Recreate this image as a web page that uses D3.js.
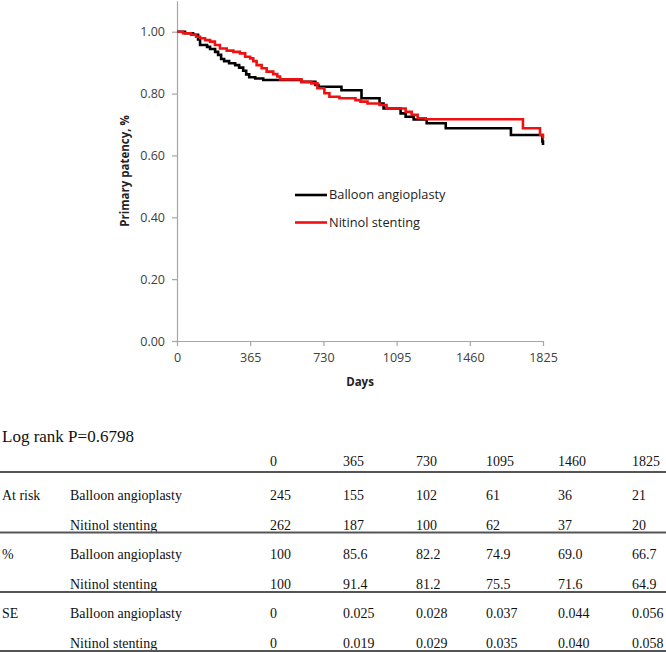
<!DOCTYPE html>
<html>
<head>
<meta charset="utf-8">
<script src="https://cdn.jsdelivr.net/npm/d3@7"></script>
<style>
  html, body { margin: 0; padding: 0; background: #fff; }
  svg { display: block; }
</style>
</head>
<body>
<svg id="chart" width="666" height="652"></svg>
<script>
// ---------- data ----------
const xTicks = [0, 365, 730, 1095, 1460, 1825];
const yTicks = [0, 0.2, 0.4, 0.6, 0.8, 1.0];
const seriesNames = ["Balloon angioplasty", "Nitinol stenting"];
const seriesColors = ["#000000", "#ee1111"];

// Kaplan-Meier step change points (day, primary patency)
const balloonDays = [0, 40, 80, 105, 115, 150, 165, 190, 205, 220, 235, 260, 290, 310, 330, 345, 360, 390, 430, 620, 690, 705, 820, 920, 1010, 1030, 1115, 1140, 1180, 1245, 1340, 1665, 1822, 1825];
const balloonSurv = [1.0, 0.995, 0.99, 0.975, 0.957, 0.951, 0.944, 0.935, 0.925, 0.912, 0.905, 0.898, 0.892, 0.884, 0.874, 0.862, 0.853, 0.849, 0.844, 0.838, 0.828, 0.822, 0.811, 0.785, 0.768, 0.752, 0.736, 0.725, 0.716, 0.704, 0.688, 0.666, 0.645, 0.634];

const nitinolDays = [0, 30, 70, 95, 115, 140, 165, 189, 214, 248, 281, 314, 340, 365, 380, 397, 422, 447, 480, 500, 514, 620, 670, 700, 735, 760, 810, 890, 915, 950, 1010, 1045, 1140, 1170, 1200, 1240, 1725, 1810, 1825];
const nitinolSurv = [1.0, 0.995, 0.99, 0.984, 0.979, 0.973, 0.968, 0.957, 0.946, 0.939, 0.935, 0.930, 0.919, 0.914, 0.905, 0.892, 0.882, 0.871, 0.863, 0.855, 0.846, 0.838, 0.833, 0.817, 0.801, 0.790, 0.785, 0.779, 0.774, 0.768, 0.763, 0.752, 0.741, 0.731, 0.720, 0.717, 0.688, 0.666, 0.655];

// table
const logRankText = "Log rank P=0.6798";
const tableHeader = ["0", "365", "730", "1095", "1460", "1825"];
const rowGroups = ["At risk", "%", "SE"];
const atRiskBalloon = ["245", "155", "102", "61", "36", "21"];
const atRiskNitinol = ["262", "187", "100", "62", "37", "20"];
const pctBalloon = ["100", "85.6", "82.2", "74.9", "69.0", "66.7"];
const pctNitinol = ["100", "91.4", "81.2", "75.5", "71.6", "64.9"];
const seBalloon = ["0", "0.025", "0.028", "0.037", "0.044", "0.056"];
const seNitinol = ["0", "0.019", "0.029", "0.035", "0.040", "0.058"];

// ---------- chart ----------
const svg = d3.select("#chart");
const x = d3.scaleLinear().domain([0, 1825]).range([177, 543]);
const y = d3.scaleLinear().domain([0, 1.1]).range([341, 0.8]);
const sans = "'Open Sans', 'Noto Sans', sans-serif";
const serif = "'Liberation Serif', 'Times New Roman', serif";
const axisColor = "#a6a6a6";

const gx = svg.append("g").attr("transform", `translate(0,${y(0)})`)
  .call(d3.axisBottom(x).tickValues(xTicks).tickFormat(d3.format("d")).tickSize(5).tickSizeOuter(0));
const gy = svg.append("g").attr("transform", `translate(${x(0)},0)`)
  .call(d3.axisLeft(y).tickValues(yTicks).tickFormat(d3.format(".2f")).tickSize(5).tickSizeOuter(0));
[gx, gy].forEach(g => {
  g.selectAll("path.domain").attr("stroke", axisColor).attr("stroke-width", 1.2);
  g.selectAll(".tick line").attr("stroke", axisColor).attr("stroke-width", 1.2);
  g.selectAll(".tick text").attr("fill", "#404040").style("font-family", sans).style("font-size", "12.5px");
});
gx.selectAll(".tick text").attr("dy", "0.95em").attr("y", 9);
gy.selectAll(".tick text").attr("x", -12);

svg.append("text").attr("x", (x(0) + x(1825)) / 2).attr("y", 386)
  .attr("text-anchor", "middle").style("font-family", sans).style("font-size", "11.5px")
  .style("font-weight", "bold").attr("fill", "#222").text("Days");
svg.append("text").attr("transform", `translate(129,${y(0.55)}) rotate(-90)`)
  .attr("text-anchor", "middle").style("font-family", sans).style("font-size", "11.5px")
  .style("font-weight", "bold").attr("fill", "#222").text("Primary patency, %");

const line = d3.line().x(d => x(d[0])).y(d => y(d[1])).curve(d3.curveStepAfter);
const series = [
  d3.zip(balloonDays, balloonSurv),
  d3.zip(nitinolDays, nitinolSurv)
];
series.forEach((s, i) => {
  svg.append("path").datum(s).attr("d", line).attr("fill", "none")
    .attr("stroke", seriesColors[i]).attr("stroke-width", 2.6);
});

// legend
const legY = [195, 222.5];
seriesNames.forEach((n, i) => {
  svg.append("line").attr("x1", 295).attr("x2", 327).attr("y1", legY[i]).attr("y2", legY[i])
    .attr("stroke", seriesColors[i]).attr("stroke-width", 2.6);
  svg.append("text").attr("x", 329).attr("y", legY[i]).attr("dy", "0.35em")
    .style("font-family", sans).style("font-size", "12.8px").attr("fill", "#222").text(n);
});

// ---------- table ----------
svg.append("text").attr("x", 2).attr("y", 441.5).style("font-family", serif)
  .style("font-size", "17px").attr("fill", "#111").text(logRankText);

const colX = [270, 343, 416, 486, 558, 632];
const tFont = "15.5px";
function tText(tx, ty, s) {
  svg.append("text").attr("transform", `translate(${tx},${ty}) scale(0.9,1)`)
    .style("font-family", serif).style("font-size", tFont).attr("fill", "#111").text(s);
}
tableHeader.forEach((h, j) => tText(colX[j], 466, h));
const rows = [
  [rowGroups[0], seriesNames[0], atRiskBalloon],
  ["", seriesNames[1], atRiskNitinol],
  [rowGroups[1], seriesNames[0], pctBalloon],
  ["", seriesNames[1], pctNitinol],
  [rowGroups[2], seriesNames[0], seBalloon],
  ["", seriesNames[1], seNitinol]
];
const rowY = [500, 529.5, 559, 588.5, 618, 647.5];
rows.forEach((r, i) => {
  if (r[0]) tText(2, rowY[i], r[0]);
  tText(70, rowY[i], r[1]);
  r[2].forEach((v, j) => tText(colX[j], rowY[i], v));
});
[472, 532.5, 592, 651].forEach(ly => {
  svg.append("line").attr("x1", 0).attr("x2", 666).attr("y1", ly).attr("y2", ly)
    .attr("stroke", "#555").attr("stroke-width", 1.8);
});
</script>
</body>
</html>
